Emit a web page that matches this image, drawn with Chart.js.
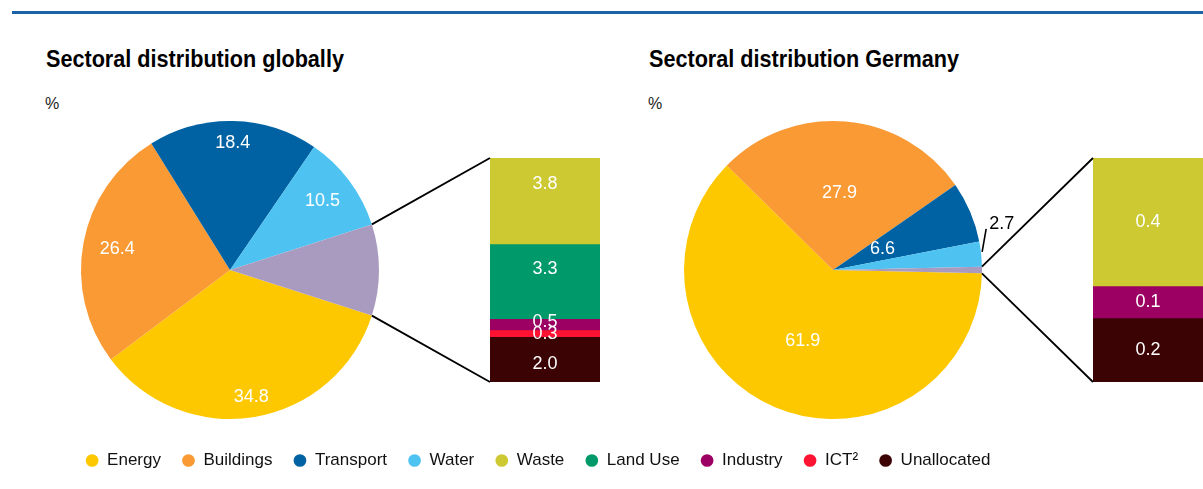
<!DOCTYPE html>
<html>
<head>
<meta charset="utf-8">
<title>Sectoral distribution</title>
<script src="https://cdn.jsdelivr.net/npm/chart.js@4"></script>
<style>
  body { margin: 0; width: 1203px; height: 489px; background: #fff; position: relative; overflow: hidden;
         font-family: "Liberation Sans", Arial, sans-serif; }
  .abs { position: absolute; }
  .rule { left: 12px; top: 11px; width: 1191px; height: 3px; background: #1b63a6; }
  .title { font-family: "Liberation Sans", Arial, sans-serif; font-weight: bold;
           font-size: 23px; line-height: 23px; color: #000; white-space: nowrap;
           transform: scaleX(0.94); transform-origin: left top; }
  .unit { font-size: 16px; line-height: 16px; color: #222; }
  canvas { position: absolute; }
</style>
</head>
<body>
<div class="abs rule"></div>
<div class="abs title" style="left:46px; top:48px;">Sectoral distribution globally</div>
<div class="abs title" style="left:649px; top:48px;">Sectoral distribution Germany</div>
<div class="abs unit" style="left:45px; top:96px;">%</div>
<div class="abs unit" style="left:648px; top:96px;">%</div>

<canvas id="pieGlobal" width="340" height="340" style="left:60px; top:100px;"></canvas>
<canvas id="barGlobal" width="110" height="224" style="left:490px; top:158px;"></canvas>
<canvas id="pieGermany" width="380" height="340" style="left:663px; top:100px;"></canvas>
<canvas id="barGermany" width="110" height="224" style="left:1093px; top:158px;"></canvas>
<canvas id="legend" width="1076" height="100" style="left:0px; top:431px;"></canvas>
<canvas id="links" width="1203" height="489" style="left:0; top:0; pointer-events:none;"></canvas>

<script>
// ---- data ----
const pieLabels = ['Energy', 'Buildings', 'Transport', 'Water', 'Other'];

const globalBreakdownLabels = ['Waste', 'Land Use', 'Industry', 'ICT²', 'Unallocated'];
const globalBreakdownValues = [3.8, 3.3, 0.5, 0.3, 2.0];
const globalMainValues = [34.8, 26.4, 18.4, 10.5];

const germanyBreakdownLabels = ['Waste', 'Industry', 'Unallocated'];
const germanyBreakdownValues = [0.4, 0.1, 0.2];
const germanyMainValues = [61.9, 27.9, 6.6, 2.7];

const legendLabels = ['Energy', 'Buildings', 'Transport', 'Water', 'Waste', 'Land Use', 'Industry', 'ICT²', 'Unallocated'];

const colors = {
  'Energy': '#fdc800',
  'Buildings': '#fa9a35',
  'Transport': '#0062a3',
  'Water': '#4ec3f1',
  'Other': '#a99ac0',
  'Waste': '#cdc933',
  'Land Use': '#009a6a',
  'Industry': '#9b0062',
  'ICT²': '#ff1232',
  'Unallocated': '#3c0304'
};

const FONT = '"Liberation Sans", Arial, sans-serif';
const sum = arr => arr.reduce((a, b) => a + b, 0);

// label placement per slice (fraction of radius); outside = leader line + black text
const globalLabelPos = [0.865, 0.77, 0.85, 0.775, null];
const germanyLabelPos = [0.52, 0.52, 0.36, 'outside', null];
// vertical nudge of the stack labels (px)
const globalStackShift = [-17, -12, -2, 1, 5];
const germanyStackShift = [0, 0, 0];

const sliceLabels = {
  id: 'sliceLabels',
  afterDatasetsDraw(chart, args, opts) {
    const ctx = chart.ctx;
    const meta = chart.getDatasetMeta(0);
    const vals = chart.data.datasets[0].data;
    ctx.save();
    ctx.font = '18px ' + FONT;
    ctx.textBaseline = 'middle';
    meta.data.forEach((arc, i) => {
      const pos = opts.pos[i];
      if (pos == null) return;
      const p = arc.getProps(['x', 'y', 'startAngle', 'endAngle', 'outerRadius'], true);
      const mid = (p.startAngle + p.endAngle) / 2;
      const txt = vals[i].toFixed(1);
      if (pos === 'outside') {
        const sx = p.x + Math.cos(mid) * (p.outerRadius + 1);
        const sy = p.y + Math.sin(mid) * (p.outerRadius + 1) - 2;
        const ex = sx + 4, ey = sy - 23;
        ctx.strokeStyle = '#000';
        ctx.lineWidth = 1.6;
        ctx.beginPath(); ctx.moveTo(sx, sy); ctx.lineTo(ex, ey); ctx.stroke();
        ctx.fillStyle = '#000';
        ctx.textAlign = 'left';
        ctx.fillText(txt, ex + 3, ey - 5);
      } else {
        ctx.fillStyle = '#fff';
        ctx.textAlign = 'center';
        ctx.fillText(txt, p.x + Math.cos(mid) * p.outerRadius * pos, p.y + Math.sin(mid) * p.outerRadius * pos);
      }
    });
    ctx.restore();
  }
};

const barLabels = {
  id: 'barLabels',
  afterDatasetsDraw(chart, args, opts) {
    const ctx = chart.ctx;
    ctx.save();
    ctx.font = '18px ' + FONT;
    ctx.fillStyle = '#fff';
    ctx.textAlign = 'center';
    ctx.textBaseline = 'middle';
    chart.data.datasets.forEach((ds, i) => {
      const el = chart.getDatasetMeta(i).data[0];
      ctx.fillText(ds.data[0].toFixed(1), el.x, (el.y + el.base) / 2 + opts.shift[i]);
    });
    ctx.restore();
  }
};

function makePie(id, mainValues, breakdown, labelPos, pad) {
  const values = mainValues.concat([sum(breakdown)]);
  const otherDeg = values[values.length - 1] / sum(values) * 360;
  return new Chart(document.getElementById(id), {
    type: 'pie',
    data: {
      labels: pieLabels,
      datasets: [{
        data: values,
        backgroundColor: pieLabels.map(l => colors[l]),
        borderWidth: 0,
        hoverOffset: 0
      }]
    },
    options: {
      responsive: false,
      animation: false,
      events: [],
      rotation: 90 + otherDeg / 2,
      layout: { padding: pad },
      plugins: { legend: { display: false }, tooltip: { enabled: false }, sliceLabels: { pos: labelPos } }
    },
    plugins: [sliceLabels]
  });
}

function makeStack(id, labels, values, shift) {
  return new Chart(document.getElementById(id), {
    type: 'bar',
    data: {
      labels: [''],
      datasets: labels.map((l, i) => ({
        label: l,
        data: [values[i]],
        backgroundColor: colors[l],
        borderWidth: 0,
        barPercentage: 1,
        categoryPercentage: 1
      }))
    },
    options: {
      responsive: false,
      animation: false,
      events: [],
      layout: { padding: 0 },
      scales: {
        x: { display: false, stacked: true },
        y: { display: false, stacked: true, reverse: true, min: 0, max: sum(values) }
      },
      plugins: { legend: { display: false }, tooltip: { enabled: false }, barLabels: { shift: shift } }
    },
    plugins: [barLabels]
  });
}

const pieG = makePie('pieGlobal', globalMainValues, globalBreakdownValues, globalLabelPos,
  { left: 21, right: 21, top: 21, bottom: 21 });
const barG = makeStack('barGlobal', globalBreakdownLabels, globalBreakdownValues, globalStackShift);
const pieD = makePie('pieGermany', germanyMainValues, germanyBreakdownValues, germanyLabelPos,
  { left: 21, right: 61, top: 21, bottom: 21 });
const barD = makeStack('barGermany', germanyBreakdownLabels, germanyBreakdownValues, germanyStackShift);

// shared legend
new Chart(document.getElementById('legend'), {
  type: 'bar',
  data: {
    labels: [],
    datasets: legendLabels.map(l => ({ label: l, data: [], backgroundColor: colors[l], borderWidth: 0 }))
  },
  options: {
    responsive: false,
    animation: false,
    events: [],
    scales: { x: { display: false }, y: { display: false } },
    plugins: {
      tooltip: { enabled: false },
      legend: {
        position: 'top',
        labels: {
          usePointStyle: true,
          pointStyle: 'circle',
          boxWidth: 13,
          boxHeight: 9,
          padding: 21,
          color: '#111',
          font: { family: FONT, size: 17 }
        }
      }
    }
  }
});

// connector lines from the "other" slice to its breakdown stack
function connect(pie, bar) {
  const cv = document.getElementById('links');
  const ctx = cv.getContext('2d');
  const pr = pie.canvas.getBoundingClientRect();
  const br = bar.canvas.getBoundingClientRect();
  const meta = pie.getDatasetMeta(0);
  const arc = meta.data[meta.data.length - 1].getProps(['x', 'y', 'startAngle', 'endAngle', 'outerRadius'], true);
  const el = bar.getDatasetMeta(0).data[0];
  const left = br.left + el.x - el.width / 2;
  const top = br.top + bar.scales.y.getPixelForValue(0);
  const bottom = br.top + bar.scales.y.getPixelForValue(bar.scales.y.max);
  const a1 = arc.startAngle, a2 = arc.endAngle;
  ctx.strokeStyle = '#000';
  ctx.lineWidth = 1.8;
  ctx.beginPath();
  ctx.moveTo(pr.left + arc.x + Math.cos(a1) * arc.outerRadius, pr.top + arc.y + Math.sin(a1) * arc.outerRadius);
  ctx.lineTo(left, top);
  ctx.moveTo(pr.left + arc.x + Math.cos(a2) * arc.outerRadius, pr.top + arc.y + Math.sin(a2) * arc.outerRadius);
  ctx.lineTo(left, bottom);
  ctx.stroke();
}
connect(pieG, barG);
connect(pieD, barD);
</script>
</body>
</html>
